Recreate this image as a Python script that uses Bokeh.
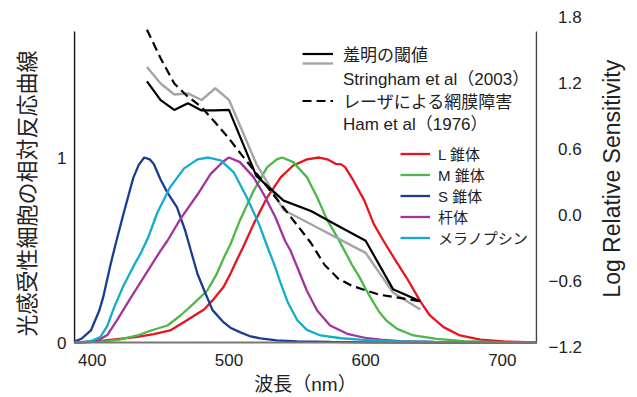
import math
from bokeh.plotting import figure
from bokeh.layouts import row
from bokeh.core.properties import value
from bokeh.models import (Range1d, LinearAxis, FixedTicker, Span, Legend, LegendItem,
                          CustomJSTickFormatter)
from bokeh.embed import file_html
from bokeh.resources import INLINE

# ---------------- data ----------------
x_ticks = [400, 500, 600, 700]
left_ticks = [0, 1]
right_ticks = [-1.2, -0.6, 0.0, 0.6, 1.2, 1.8]

l_wl = [387, 400, 408, 420, 433, 445, 457, 469, 482, 489, 496, 501, 506, 510, 518, 528, 538, 547,
        557, 566, 572, 578, 582, 585, 591, 599, 606, 613, 623, 630, 640, 647, 657, 669, 684, 701, 725]
l_val = [0, 0.004, 0.01, 0.02, 0.03, 0.045, 0.065, 0.119, 0.18, 0.236, 0.30, 0.37, 0.45, 0.51, 0.64,
         0.785, 0.894, 0.957, 0.99, 1.0, 0.99, 0.966, 0.963, 0.948, 0.876, 0.768, 0.64, 0.55, 0.43,
         0.35, 0.222, 0.146, 0.083, 0.038, 0.016, 0.006, 0]

m_wl = [387, 400, 410, 420, 433, 443, 455, 464.5, 474, 484, 491, 497, 501, 508, 518, 528, 535, 539,
        547, 557, 564.5, 572, 580, 585, 590, 595, 600, 605, 610, 615, 623, 635, 652, 672, 700, 725]
m_val = [0, 0.003, 0.008, 0.015, 0.038, 0.065, 0.092, 0.146, 0.209, 0.28, 0.37, 0.47, 0.53, 0.66,
         0.82, 0.948, 0.99, 1.0, 0.975, 0.894, 0.785, 0.66, 0.56, 0.49, 0.42, 0.36, 0.29, 0.225,
         0.165, 0.12, 0.074, 0.038, 0.02, 0.008, 0.002, 0]

s_wl = [387, 392, 399, 405, 408, 413, 417, 423, 430, 434, 438, 442, 445, 450, 455, 462, 468, 472,
        477, 482, 488, 496, 501, 508, 515, 523, 535, 550, 575, 600, 650, 725]
s_val = [0.005, 0.02, 0.065, 0.17, 0.245, 0.41, 0.53, 0.70, 0.89, 0.96, 1.0, 0.99, 0.965, 0.88,
         0.81, 0.73, 0.605, 0.50, 0.37, 0.28, 0.175, 0.11, 0.08, 0.056, 0.035, 0.022, 0.012, 0.006,
         0.003, 0.001, 0.0, 0.0]

rod_wl = [387, 400, 405, 411, 418, 428, 440, 450, 455, 464.5, 477, 486.5, 496, 500, 508, 518, 525.5,
          534, 541, 545, 550, 557, 564.5, 574, 586.5, 601, 611, 625, 650, 725]
rod_val = [0, 0.005, 0.015, 0.04, 0.12, 0.24, 0.38, 0.497, 0.55, 0.668, 0.80, 0.91, 0.98, 1.0,
           0.975, 0.894, 0.80, 0.677, 0.55, 0.497, 0.407, 0.28, 0.173, 0.092, 0.047, 0.023, 0.016,
           0.008, 0.003, 0]

mel_wl = [387, 395, 400, 406, 411, 416, 423, 430, 436, 441, 447.5, 457, 467, 477, 485, 494, 503.5,
          513, 522, 529, 533, 538, 543, 550, 557, 567, 582, 596, 620, 650, 725]
mel_val = [0, 0.003, 0.01, 0.03, 0.09, 0.19, 0.31, 0.41, 0.49, 0.57, 0.70, 0.84, 0.94, 0.99, 1.0,
           0.985, 0.92, 0.785, 0.64, 0.50, 0.425, 0.317, 0.218, 0.12, 0.068, 0.038, 0.023, 0.016,
           0.008, 0.003, 0]

# log relative sensitivity (right axis)
thr_wl = [440, 450, 460, 470, 480, 490, 500, 520, 540, 560, 580, 600, 620, 640]
glare_black = [1.22, 1.05, 0.96, 1.02, 0.955, 0.955, 0.96, 0.36, 0.135, 0.04, -0.095, -0.23, -0.67, -0.78]
glare_gray = [1.35, 1.2, 1.1, 1.11, 1.05, 1.157, 1.052, 0.47, 0.05, -0.08, -0.21, -0.34, -0.70, -0.855]

ham_wl = [440, 450, 460, 470, 480, 490, 500, 510, 520, 530, 540, 550, 560, 570, 580, 590, 600, 610, 620, 640]
ham_val = [1.69, 1.43, 1.20, 1.08, 0.985, 0.845, 0.70, 0.54, 0.385, 0.23, 0.07, -0.09, -0.25, -0.45,
           -0.575, -0.64, -0.68, -0.72, -0.74, -0.78]

# ---------------- style ----------------
FONT = "Liberation Sans, Noto Sans CJK JP"
TXT = "#222222"
C_L, C_M, C_S, C_ROD, C_MEL = "#e8141e", "#4db848", "#1b3c91", "#a2359b", "#12adc9"

p = figure(width=592, height=397,
           x_range=Range1d(386.27, 725.73), y_range=Range1d(-0.027, 1.7568),
           output_backend="svg", toolbar_location=None,
           min_border_left=73, min_border_right=55, min_border_top=17, min_border_bottom=50)
p.outline_line_color = None
p.xgrid.visible = False
p.ygrid.visible = False
p.background_fill_color = "white"
p.extra_y_ranges = {"log": Range1d(-1.2005, 1.8005)}

# axis frame lines (drawn by hand: they stop short of the frame top)
AX_X0, AX_X1, AX_TOP = 387, 725, 1.681
p.segment(x0=[AX_X0], y0=[0], x1=[AX_X0], y1=[AX_TOP], line_color="#111111", line_width=1.5)
p.segment(x0=[AX_X1], y0=[0], x1=[AX_X1], y1=[AX_TOP], line_color="#444444", line_width=1.5)

r_l = p.line(l_wl, l_val, line_color=C_L, line_width=2.3)
r_m = p.line(m_wl, m_val, line_color=C_M, line_width=2.3)
r_s = p.line(s_wl, s_val, line_color=C_S, line_width=2.3)
r_rod = p.line(rod_wl, rod_val, line_color=C_ROD, line_width=2.3)
r_mel = p.line(mel_wl, mel_val, line_color=C_MEL, line_width=2.3)

p.add_layout(Span(location=0, dimension="width", line_color="#777777", line_width=2))

r_gray = p.line(thr_wl, glare_gray, y_range_name="log", line_color="#a5a5a5", line_width=2.4)
r_black = p.line(thr_wl, glare_black, y_range_name="log", line_color="black", line_width=2.2)
r_ham = p.line(ham_wl, ham_val, y_range_name="log", line_color="black", line_width=2.2,
               line_dash="9 5")
blank1 = p.line(x=[], y=[], line_alpha=0)
blank2 = p.line(x=[], y=[], line_alpha=0)

# axes
xa = p.xaxis[0]
xa.ticker = FixedTicker(ticks=x_ticks)
xa.axis_label = "波長（nm）"
ya = p.yaxis[0]
ya.ticker = FixedTicker(ticks=left_ticks)
ya.axis_label = "光感受性細胞の相対反応曲線\u3000"

ra = LinearAxis(y_range_name="log", ticker=FixedTicker(ticks=right_ticks),
                formatter=CustomJSTickFormatter(
                    code="return (tick < 0 ? '\u2212' : '\u2007') + Math.abs(tick).toFixed(1);"))
p.add_layout(ra, "right")

for ax in (xa, ya, ra):
    ax.axis_line_color = None
    ax.major_tick_line_color = None
    ax.minor_tick_line_color = None
    ax.major_tick_out = 0
    ax.major_tick_in = 0
    ax.minor_tick_out = 0
    ax.minor_tick_in = 0
    ax.major_label_text_font = FONT
    ax.major_label_text_font_size = "17px"
    ax.major_label_text_color = TXT
    ax.axis_label_text_font = FONT
    ax.axis_label_text_font_style = "normal"
    ax.axis_label_text_color = TXT

xa.major_label_standoff = 6
xa.axis_label_standoff = 5
xa.axis_label_text_font_size = "19px"
ya.major_label_standoff = 7
ya.axis_label_standoff = 14
ya.axis_label_text_font_size = "22px"
ra.major_label_standoff = 11


def style_legend(lg, fsize):
    lg.padding = 0
    lg.margin = 0
    lg.spacing = 0
    lg.border_line_color = None
    lg.background_fill_alpha = 0
    lg.label_text_font = FONT
    lg.label_text_font_size = fsize
    lg.label_text_color = TXT


# upper legend: one single-row legend per line so each row sits where the reference has it
upper_rows = [(r_black, "羞明の閾値", 281.5),
              (blank1, "Stringham et al（2003）", 257.5),
              (r_ham, "レーザによる網膜障害", 234.5),
              (blank2, "Ham et al（1976）", 212.5)]
for rend, lab, loc_y in upper_rows:
    lg = Legend(items=[LegendItem(label=lab, renderers=[rend])], location=(229, loc_y),
                glyph_width=31, glyph_height=23, label_height=23, label_standoff=10)
    style_legend(lg, "17px")
    p.add_layout(lg)

leg_gray = Legend(items=[LegendItem(label=" ", renderers=[r_gray])],
                  location=(229, 279), glyph_width=31, glyph_height=10, label_height=10,
                  label_standoff=10)
style_legend(leg_gray, "1px")
p.add_layout(leg_gray)

leg2 = Legend(items=[LegendItem(label="L 錐体", renderers=[r_l]),
                     LegendItem(label="M 錐体", renderers=[r_m]),
                     LegendItem(label="S 錐体", renderers=[r_s]),
                     LegendItem(label="杆体", renderers=[r_rod]),
                     LegendItem(label="メラノプシン", renderers=[r_mel])],
              location=(327, 99.5), glyph_width=30, glyph_height=21, label_height=21,
              label_standoff=8)
style_legend(leg2, "15px")
p.add_layout(leg2)

# right-hand axis title, reading bottom-to-top, in a narrow companion figure
p2 = figure(width=45, height=397, x_range=Range1d(0, 45), y_range=Range1d(0, 397),
            output_backend="svg", toolbar_location=None,
            x_axis_location=None, y_axis_location=None,
            min_border=0, min_border_left=0, min_border_right=0,
            min_border_top=0, min_border_bottom=0)
p2.outline_line_color = None
p2.xgrid.visible = False
p2.ygrid.visible = False
p2.text(x=[19], y=[203], text=["Log Relative Sensitivity"], angle=math.pi / 2,
        text_align="center", text_baseline="middle", text_font=value(FONT),
        text_font_size=value("23px"), text_color=TXT)

open("out.html", "w").write(file_html(row(p, p2), INLINE))
